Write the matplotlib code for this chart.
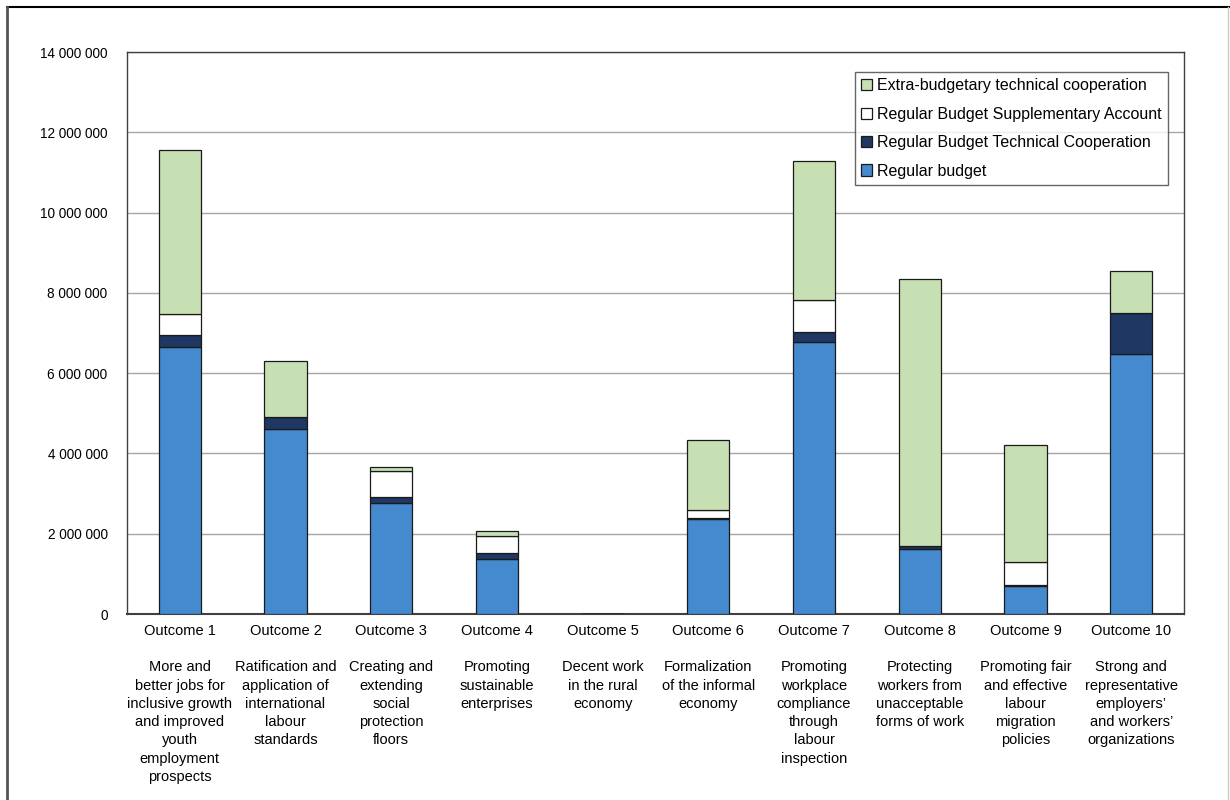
#!/usr/bin/env python3

import numpy as np
import matplotlib.pyplot as plt
from matplotlib.lines import Line2D
from matplotlib.ticker import FuncFormatter

plt.rcParams['font.family'] = ['Liberation Sans', 'DejaVu Sans']

# Budget by outcome (US$)
outcomes = ["Outcome %d" % i for i in range(1, 11)]
descriptions = [
    "More and\nbetter jobs for\ninclusive growth\nand improved\nyouth\nemployment\nprospects",
    "Ratification and\napplication of\ninternational\nlabour\nstandards",
    "Creating and\nextending\nsocial\nprotection\nfloors",
    "Promoting\nsustainable\nenterprises",
    "Decent work\nin the rural\neconomy",
    "Formalization\nof the informal\neconomy",
    "Promoting\nworkplace\ncompliance\nthrough\nlabour\ninspection",
    "Protecting\nworkers from\nunacceptable\nforms of work",
    "Promoting fair\nand effective\nlabour\nmigration\npolicies",
    "Strong and\nrepresentative\nemployers’\nand workers’\norganizations",
]
regular_budget = [6640000, 4620000, 2760000, 1360000, 0, 2370000, 6770000, 1610000, 700000, 6470000]
rbtc = [320000, 280000, 160000, 150000, 0, 20000, 260000, 80000, 10000, 1040000]
rbsa = [520000, 0, 630000, 430000, 0, 190000, 790000, 0, 590000, 0]
xbtc = [4090000, 1400000, 100000, 130000, 0, 1760000, 3470000, 6660000, 2900000, 1040000]

series = [
    ("Regular budget", regular_budget, "#4589CE"),
    ("Regular Budget Technical Cooperation", rbtc, "#1F3763"),
    ("Regular Budget Supplementary Account", rbsa, "#FFFFFF"),
    ("Extra-budgetary technical cooperation", xbtc, "#C6E0B4"),
]

W, H = 1230, 800
fig = plt.figure(figsize=(W / 100, H / 100), dpi=100)
ax = fig.add_axes([127 / W, (H - 614) / H, (1184 - 127) / W, (614 - 52) / H])

x = np.arange(len(outcomes))
bottom = np.zeros(len(outcomes))
handles = []
for name, vals, color in series:
    vals = np.array(vals, dtype=float)
    bars = ax.bar(x, vals, width=0.4, bottom=bottom, color=color,
                  edgecolor="#1a1a1a", linewidth=0.9, label=name, zorder=3)
    bottom += vals
    handles.append(bars)

ax.set_xlim(-0.5, len(outcomes) - 0.5)
ax.set_ylim(0, 14000000)
ax.set_yticks(np.arange(0, 14000001, 2000000))
ax.yaxis.set_major_formatter(FuncFormatter(lambda v, p: "{:,.0f}".format(v).replace(",", " ")))
ax.grid(axis="y", color="#a6a6a6", linewidth=1.0, zorder=0)
ax.tick_params(axis="y", length=0, pad=14, labelsize=9.8, colors="#000000")

ax.set_xticks(x)
ax.set_xticklabels([o + "\n\n" + d for o, d in zip(outcomes, descriptions)],
                   fontsize=10.5, linespacing=1.39, va="top")
ax.tick_params(axis="x", length=0, pad=7)

for s in ax.spines.values():
    s.set_color("#404040")
    s.set_linewidth(1.0)
ax.spines["bottom"].set_linewidth(1.5)

leg = ax.legend(handles[::-1], [s[0] for s in series][::-1],
                loc="upper right", bbox_to_anchor=((1168 - 127) / 1057, 1 - 20 / 562),
                fontsize=11.5, frameon=True, fancybox=False, edgecolor="#404040",
                handlelength=0.7, handleheight=0.7, handletextpad=0.3,
                labelspacing=0.84, borderpad=0.4, borderaxespad=0)
leg.get_frame().set_linewidth(1.0)

# outer frame
fig.add_artist(Line2D([7 / W, 1], [1 - 7 / H, 1 - 7 / H], color="#000000", linewidth=1.5))
fig.add_artist(Line2D([7 / W, 7 / W], [0, 1 - 7 / H], color="#555555", linewidth=2))
fig.add_artist(Line2D([1228 / W, 1228 / W], [0, 1 - 7 / H], color="#cccccc", linewidth=1))

fig.savefig("out.png", dpi=100)
